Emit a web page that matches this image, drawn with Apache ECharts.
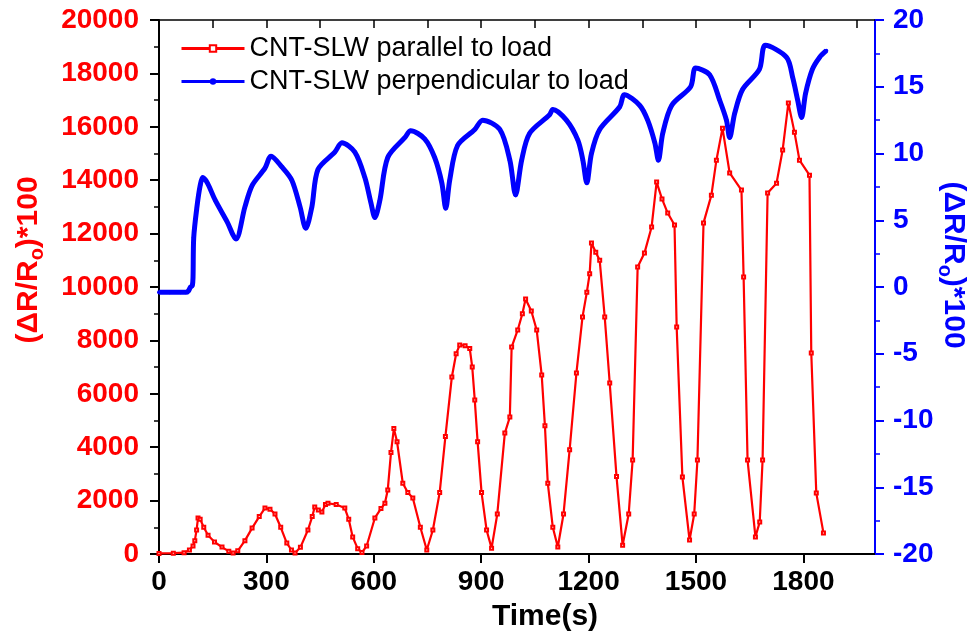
<!DOCTYPE html>
<html>
<head>
<meta charset="utf-8">
<title>CNT-SLW</title>
<script src="https://cdn.jsdelivr.net/npm/echarts@6/dist/echarts.min.js"></script>
<style>
  html, body { margin: 0; padding: 0; background: #fff; overflow: hidden; }
  #chart { width: 971px; height: 642px; }
</style>
</head>
<body>
<div id="chart"></div>
<script>
// parallel to load (left axis)
const parTime = [0, 40, 70, 85, 95, 100, 105, 109, 115, 125, 137, 155, 176, 195, 207, 220, 240, 260, 280, 296,
  310, 324, 340, 357, 370, 380, 395, 416, 428, 435, 445, 455, 465, 472, 495, 519, 530, 541, 555, 567,
  580, 603, 620, 631, 639, 648, 656, 665, 681, 695, 709, 730, 748, 765, 784, 800, 818, 830, 840, 855,
  868, 875, 882, 890, 901, 915, 929, 945, 966, 980, 985, 1002, 1015, 1024, 1040, 1055, 1069, 1078, 1086, 1100,
  1114, 1130, 1147, 1166, 1183, 1195, 1203, 1208, 1220, 1231, 1245, 1259, 1278, 1295, 1312, 1323, 1337, 1356, 1376, 1390,
  1405, 1421, 1440, 1446, 1462, 1482, 1495, 1504, 1521, 1543, 1557, 1574, 1594, 1627, 1633, 1644, 1666, 1678, 1686, 1700,
  1725, 1742, 1758, 1775, 1789, 1817, 1822, 1836, 1856]
const parValue = [20, 30, 50, 150, 300, 500, 900, 1350, 1300, 1000, 700, 450, 260, 100, 40, 120, 500, 970, 1400, 1720,
  1680, 1500, 1000, 410, 150, 40, 250, 900, 1400, 1760, 1650, 1570, 1850, 1900, 1850, 1720, 1300, 640, 200, 60,
  300, 1350, 1700, 1900, 2400, 3800, 4700, 4200, 2650, 2300, 2100, 1000, 150, 900, 2300, 4400, 6630, 7500, 7830, 7800,
  7700, 7000, 5770, 4200, 2300, 900, 220, 1500, 4530, 5130, 7750, 8390, 9000, 9550, 9100, 8390, 6700, 4800, 2650, 1000,
  260, 1500, 3900, 6780, 8880, 9800, 10500, 11650, 11300, 11000, 8880, 6400, 2900, 330, 1500, 3520, 10750, 11270, 12250, 13930,
  13300, 12770, 12320, 8500, 2880, 520, 1500, 3520, 12400, 13440, 14750, 15950, 14270, 13630, 10370, 3520, 640, 1200, 3520, 13520,
  13890, 15130, 16890, 15800, 14750, 14190, 7530, 2280, 790]

// perpendicular to load (right axis)
const perpTime = [0, 30, 60, 75, 82, 88, 93, 95, 97, 106, 115, 122, 135, 157, 190, 215, 240, 260, 296, 313,
  343, 371, 394, 410, 427, 444, 491, 511, 547, 575, 592, 603, 617, 639, 687, 703, 742, 770, 790, 801,
  812, 834, 882, 904, 952, 980, 996, 1013, 1035, 1091, 1100, 1138, 1170, 1184, 1195, 1208, 1231, 1287, 1300, 1343,
  1365, 1385, 1395, 1407, 1432, 1485, 1499, 1538, 1566, 1585, 1594, 1608, 1630, 1677, 1694, 1753, 1770, 1784, 1795, 1806,
  1825, 1845, 1864]
const perpValue = [-0.4, -0.4, -0.4, -0.4, -0.3, 0, 0.1, 0.7, 3.7, 6.0, 7.6, 8.2, 7.8, 6.5, 4.9, 3.6, 6.0, 7.6, 8.9, 9.8,
  9.0, 8.0, 6.0, 4.4, 6.0, 8.8, 10.1, 10.8, 10.1, 8.2, 6.3, 5.2, 6.5, 9.7, 11.2, 11.7, 11.1, 9.7, 7.8, 5.9,
  8.0, 10.6, 11.8, 12.5, 11.8, 9.5, 6.9, 9.5, 11.5, 12.9, 13.3, 12.5, 11.0, 9.5, 7.8, 10.0, 11.8, 13.5, 14.4, 13.6,
  12.5, 10.8, 9.5, 11.5, 13.6, 15.0, 16.4, 15.9, 14.0, 12.5, 11.2, 13.0, 14.8, 16.3, 18.1, 17.2, 15.7, 14.0, 12.7, 14.5,
  16.3, 17.2, 17.7]

const timeTicks = [0, 300, 600, 900, 1200, 1500, 1800]
const topTicks = [0, 150, 300, 450, 600, 750, 900, 1050, 1200, 1350, 1500, 1650, 1800, 1950]

const seriesNames = ['CNT-SLW parallel to load', 'CNT-SLW perpendicular to load']

const FONT = 'Liberation Sans'
const RED = '#ff0000'
const BLUE = '#0000ff'

// plain numbers, no thousands separator
function plain (v) {
  return String(v)
}

let chart = echarts.init(document.getElementById('chart'))

let option = {
  animation: false,
  backgroundColor: '#fff',
  grid: {
    left: 159,
    right: 96,
    top: 20,
    bottom: 88,
    containLabel: false,
    outerBoundsMode: 'none'
  },
  legend: {
    orient: 'vertical',
    left: 175,
    top: 30,
    itemWidth: 63,
    itemHeight: 8,
    itemGap: 6,
    lineStyle: { width: 3 },
    textStyle: {
      fontFamily: FONT,
      fontSize: 27,
      color: '#000'
    },
    data: seriesNames
  },
  xAxis: [{
    type: 'value',
    position: 'bottom',
    min: 0,
    max: 2000,
    interval: 300,
    name: 'Time(s)',
    nameLocation: 'middle',
    nameGap: 48,
    nameTextStyle: { fontFamily: FONT, fontWeight: 'bold', fontSize: 30, color: '#000', padding: [0, 0, 0, 56] },
    axisLine: { show: true, onZero: false, lineStyle: { color: '#000', width: 2 } },
    axisTick: { show: true, inside: false, length: 9, customValues: timeTicks, lineStyle: { color: '#000', width: 2 } },
    axisLabel: {
      customValues: timeTicks,
      formatter: plain,
      margin: 14,
      fontFamily: FONT,
      fontWeight: 'bold',
      fontSize: 28,
      color: '#000'
    },
    splitLine: { show: false }
  }, {
    type: 'value',
    position: 'top',
    min: 0,
    max: 2000,
    interval: 150,
    axisLine: { show: true, onZero: false, lineStyle: { color: '#000', width: 1.5 } },
    axisTick: { show: true, inside: true, length: 8, customValues: topTicks, lineStyle: { color: '#000', width: 1.5 } },
    axisLabel: { show: false },
    splitLine: { show: false }
  }],
  yAxis: [{
    type: 'value',
    position: 'left',
    min: 0,
    max: 20000,
    interval: 2000,
    name: '(ΔR/R{o|o})*100',
    nameLocation: 'middle',
    nameGap: 112,
    nameTextStyle: {
      fontFamily: FONT, fontWeight: 'bold', fontSize: 30, color: RED,
      padding: [0, 0, 0, 54],
      rich: {
        o: { fontFamily: FONT, fontWeight: 'bold', fontSize: 20, color: RED, padding: [16, 0, 0, 0] }
      }
    },
    axisLine: { show: true, onZero: false, lineStyle: { color: '#000', width: 2 } },
    axisTick: { show: true, inside: false, length: 9, lineStyle: { color: '#000', width: 2 } },
    minorTick: { show: true, splitNumber: 2, length: 5, lineStyle: { color: '#000', width: 1.5 } },
    axisLabel: { formatter: plain, margin: 20, fontFamily: FONT, fontWeight: 'bold', fontSize: 28, color: RED },
    splitLine: { show: false }
  }, {
    type: 'value',
    position: 'right',
    min: -20,
    max: 20,
    interval: 5,
    name: '(ΔR/R{o|o})*100',
    nameLocation: 'middle',
    nameRotate: -90,
    nameGap: 60,
    nameMoveOverlap: false,
    nameTextStyle: {
      fontFamily: FONT, fontWeight: 'bold', fontSize: 30, color: BLUE,
      padding: [0, 44, 0, 0],
      rich: {
        o: { fontFamily: FONT, fontWeight: 'bold', fontSize: 20, color: BLUE, padding: [16, 0, 0, 0] }
      }
    },
    axisLine: { show: true, onZero: false, lineStyle: { color: BLUE, width: 2 } },
    axisTick: { show: true, inside: false, length: 9, lineStyle: { color: BLUE, width: 2 } },
    minorTick: { show: true, splitNumber: 2, length: 5, lineStyle: { color: BLUE, width: 1.5 } },
    axisLabel: { formatter: plain, margin: 18, fontFamily: FONT, fontWeight: 'bold', fontSize: 28, color: BLUE },
    splitLine: { show: false }
  }],
  series: [{
    name: seriesNames[0],
    type: 'line',
    xAxisIndex: 0,
    yAxisIndex: 0,
    data: parTime.map((t, i) => [t, parValue[i]]),
    symbol: 'emptyRect',
    symbolSize: 3,
    showAllSymbol: true,
    itemStyle: { color: RED, borderWidth: 1 },
    lineStyle: { color: RED, width: 2.2 },
    z: 3
  }, {
    name: seriesNames[1],
    type: 'line',
    xAxisIndex: 0,
    yAxisIndex: 1,
    data: perpTime.map((t, i) => [t, perpValue[i]]),
    smooth: 0.3,
    symbol: 'circle',
    symbolSize: 4,
    showAllSymbol: true,
    itemStyle: { color: BLUE },
    lineStyle: { color: BLUE, width: 5 },
    z: 2
  }]
}

chart.setOption(option)
window.addEventListener('resize', function () {
  chart.resize()
})
</script>
</body>
</html>
